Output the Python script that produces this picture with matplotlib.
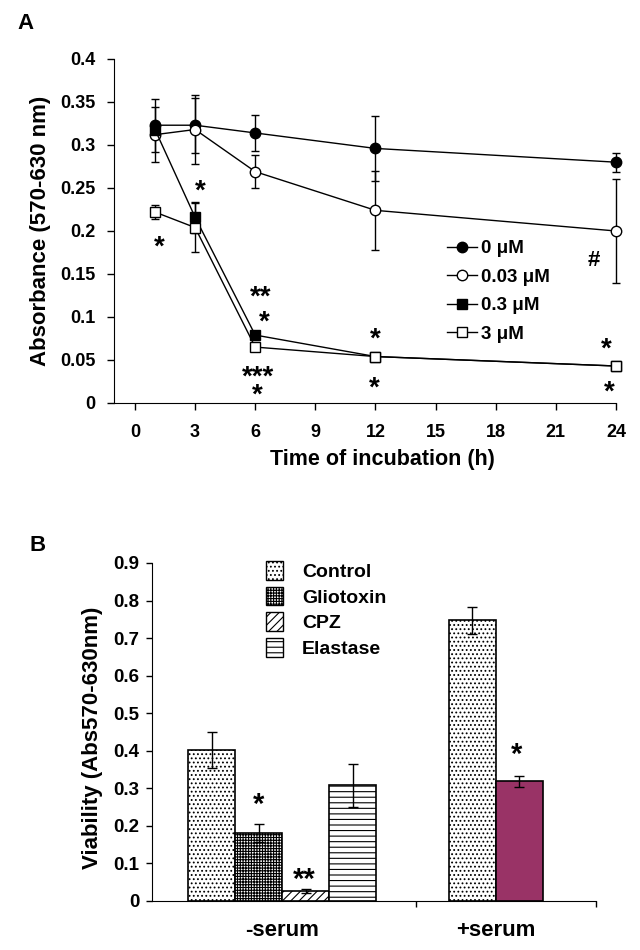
import matplotlib
matplotlib.use("Agg")
import matplotlib.pyplot as plt
from matplotlib.patches import Patch
from matplotlib.lines import Line2D

plt.rcParams["font.family"] = ["Liberation Sans", "DejaVu Sans"]
plt.rcParams["font.weight"] = "bold"
plt.rcParams["hatch.linewidth"] = 0.8

# panel A: absorbance over time
times = [1, 3, 6, 12, 24]
abs_0 = [0.323, 0.323, 0.314, 0.296, 0.280]
err_0 = [0.031, 0.032, 0.021, 0.038, 0.011]
abs_003 = [0.312, 0.318, 0.269, 0.224, 0.200]
err_003 = [0.032, 0.040, 0.019, 0.046, 0.060]
abs_03 = [0.318, 0.216, 0.079, 0.054, 0.043]
err_03 = [0.005, 0.018, 0.003, 0.003, 0.002]
abs_3 = [0.222, 0.204, 0.065, 0.054, 0.043]
err_3 = [0.008, 0.029, 0.003, 0.003, 0.002]
series_labels = ["0 \u03bcM", "0.03 \u03bcM", "0.3 \u03bcM", "3 \u03bcM"]

# significance marks on panel A (text, x, y); the 6 h pair below the curve is one stacked text
marks_a = [("*", 1.2, 0.189), ("*", 3.25, 0.254), ("**", 6.25, 0.131), ("*", 6.45, 0.101),
           ("***\n*", 6.12, 0.027), ("*", 12.0, 0.082), ("*", 11.95, 0.025),
           ("#", 22.9, 0.166), ("*", 23.5, 0.070), ("*", 23.65, 0.020)]

# panel B: viability bars
treatments = ["Control", "Gliotoxin", "CPZ", "Elastase"]
minus_serum = [0.401, 0.182, 0.026, 0.308]
minus_err = [0.048, 0.024, 0.005, 0.058]
plus_serum = [0.747, 0.319]
plus_err = [0.037, 0.015]
groups = ["-serum", "+serum"]

fig = plt.figure(figsize=(6.4, 9.5), dpi=100)

# ---------------- panel A
ax = fig.add_axes([0.178, 0.5758, 0.7845, 0.3621])
styles = [("o", "black"), ("o", "white"), ("s", "black"), ("s", "white")]
for vals, errs, (mk, fc) in zip([abs_0, abs_003, abs_03, abs_3], [err_0, err_003, err_03, err_3], styles):
    lines = ax.errorbar(times, vals, yerr=errs, color="black", lw=1.0, elinewidth=1.0, capsize=3,
                        capthick=1.0, marker=mk, ms=7.5 if mk == "o" else 7, mfc=fc, mec="black",
                        mew=1.0)
    for art in lines.lines[0:1] + lines.lines[1] + lines.lines[2]:
        art.set_clip_on(False)

# asterisks sit high in the text box, so push them down a little
for txt, x, y in marks_a:
    if txt == "#":
        ax.text(x, y, txt, ha="center", va="center", fontsize=16)
    else:
        ax.text(x, y - 0.008, txt, ha="center", va="center", fontsize=20, linespacing=0.62)

ax.set_xlim(-1.05, 24)
ax.set_ylim(0, 0.4)
ax.set_xticks(range(0, 25, 3))
ax.set_yticks([0, 0.05, 0.1, 0.15, 0.2, 0.25, 0.3, 0.35, 0.4])
ax.set_yticklabels(["0", "0.05", "0.1", "0.15", "0.2", "0.25", "0.3", "0.35", "0.4"])
ax.tick_params(axis="both", direction="out", labelsize=13, width=1, length=5)
ax.tick_params(axis="x", pad=10)
ax.tick_params(axis="y", pad=8)
for s in ["top", "right"]:
    ax.spines[s].set_visible(False)

handles = [Line2D([], [], color="black", lw=1, marker=mk, ms=7.5 if mk == "o" else 7,
                  mfc=fc, mec="black") for mk, fc in styles]
ax.legend(handles, series_labels, loc="upper left", bbox_to_anchor=(0.645, 0.5), frameon=False,
          fontsize=13.5, handlelength=1.6, handletextpad=0.2, labelspacing=0.6, borderpad=0)

fig.text(0.064, 0.757, "Absorbance (570-630 nm)", rotation=90, ha="center", va="center", fontsize=16)
fig.text(0.598, 0.516, "Time of incubation (h)", ha="center", va="center", fontsize=15.5)
fig.text(0.04, 0.975, "A", ha="center", va="center", fontsize=16)

# ---------------- panel B
bx = fig.add_axes([0.2375, 0.0516, 0.6935, 0.3558])
pos_minus = [0, 1, 2, 3]
pos_plus = [5.55, 6.55]
fills = ["....", "++++++", "////", "---"]
for p, v, e, h in zip(pos_minus, minus_serum, minus_err, fills):
    bx.bar(p, v, width=1.0, color="white", edgecolor="black", hatch=h, lw=0)
    bx.bar(p, v, width=1.0, fill=False, edgecolor="black", lw=1.2)
    bx.errorbar(p, v, yerr=e, color="black", lw=1, capsize=3.5, capthick=1)
bx.bar(pos_plus[0], plus_serum[0], width=1.0, color="white", edgecolor="black", hatch=fills[0], lw=0)
bx.bar(pos_plus[0], plus_serum[0], width=1.0, fill=False, edgecolor="black", lw=1.2)
bx.bar(pos_plus[1], plus_serum[1], width=1.0, color="#993366", edgecolor="black", lw=1.2)
bx.errorbar(pos_plus, plus_serum, yerr=plus_err, fmt="none", ecolor="black", lw=1, capsize=3.5, capthick=1)

bx.text(1, 0.255, "*", ha="center", va="center", fontsize=21)
bx.text(1.97, 0.056, "**", ha="center", va="center", fontsize=21)
bx.text(6.5, 0.389, "*", ha="center", va="center", fontsize=21)

bx.set_xlim(-1.27, 8.18)
bx.set_ylim(0, 0.9)
bx.set_yticks([0, 0.1, 0.2, 0.3, 0.4, 0.5, 0.6, 0.7, 0.8, 0.9])
bx.set_yticklabels(["0", "0.1", "0.2", "0.3", "0.4", "0.5", "0.6", "0.7", "0.8", "0.9"])
bx.set_xticks([4.35, 8.18])
bx.set_xticklabels(["", ""])
bx.tick_params(axis="both", direction="out", labelsize=13.5, width=1, length=4)
bx.tick_params(axis="y", pad=5)
for s in ["top", "right"]:
    bx.spines[s].set_visible(False)
bx.text(sum(pos_minus) / 4, -0.078, groups[0], ha="center", va="center", fontsize=16)
bx.text(sum(pos_plus) / 2, -0.078, groups[1], ha="center", va="center", fontsize=16)

leg_handles = [Patch(facecolor="white", edgecolor="black", hatch=h) for h in fills]
bx.legend(leg_handles, treatments, loc="upper left", bbox_to_anchor=(0.235, 1.035), frameon=False,
          fontsize=14, handlelength=0.85, handleheight=1.1, handletextpad=1.0, labelspacing=0.3,
          borderpad=0)

fig.text(0.144, 0.223, "Viability (Abs570-630nm)", rotation=90, ha="center", va="center", fontsize=16)
fig.text(0.058, 0.426, "B", ha="center", va="center", fontsize=16)

fig.savefig("out.png", dpi=100)
